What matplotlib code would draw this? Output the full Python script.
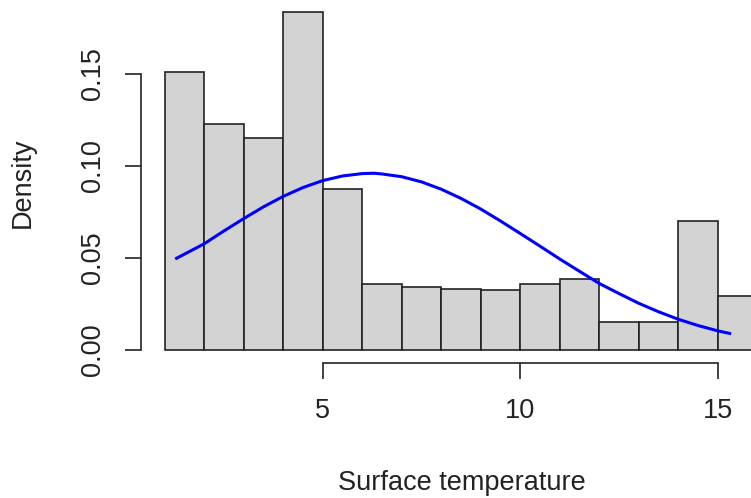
import matplotlib.pyplot as plt

plt.rcParams['font.family'] = ['Liberation Sans', 'DejaVu Sans']

# histogram bins (width 1, from 1 to 16) and densities
bin_left = [1, 2, 3, 4, 5, 6, 7, 8, 9, 10, 11, 12, 13, 14, 15]
density = [0.1512, 0.1230, 0.1154, 0.1835, 0.0876, 0.0359, 0.0343, 0.0332,
           0.0327, 0.0359, 0.0386, 0.0152, 0.0152, 0.0702, 0.0289]

# fitted density curve
curve_x = [1.3, 2, 2.5, 3, 3.5, 4, 4.5, 5, 5.5, 6, 6.3, 6.5, 7, 7.5, 8, 8.5,
           9, 9.5, 10, 10.5, 11, 11.5, 12, 12.5, 13, 13.5, 14, 14.5, 15, 15.3]
curve_y = [0.0497, 0.0576, 0.0646, 0.0713, 0.0777, 0.0834, 0.0882, 0.0920,
           0.0945, 0.0958, 0.0960, 0.0956, 0.0941, 0.0913, 0.0873, 0.0823,
           0.0765, 0.0700, 0.0632, 0.0563, 0.0493, 0.0426, 0.0360, 0.0305,
           0.0252, 0.0206, 0.0165, 0.0131, 0.0102, 0.0088]

xticks = [5, 10, 15]
yticks = [0.00, 0.05, 0.10, 0.15]

fig = plt.figure(figsize=(7.51, 4.98), dpi=100)
ax = fig.add_axes([141 / 751, 135 / 498, 640 / 751, 363 / 498])

ax.bar(bin_left, density, width=1, align='edge', color='#d3d3d3',
       edgecolor='#222222', linewidth=1.2)
ax.plot(curve_x, curve_y, color='#0000ff', linewidth=2.2)

ax.set_xlim(0.4, 16.6)
ax.set_ylim(-0.0073, 0.1903)

for s in ['top', 'right']:
    ax.spines[s].set_visible(False)
ax.spines['left'].set_bounds(0, 0.15)
ax.spines['bottom'].set_bounds(5, 15)
for s in ['left', 'bottom']:
    ax.spines[s].set_linewidth(1.2)
    ax.spines[s].set_color('#222222')

ax.set_xticks(xticks)
ax.set_xticklabels([str(v) for v in xticks])
ax.set_yticks(yticks)
ax.set_yticklabels(['%.2f' % v for v in yticks], rotation=90, va='center')
ax.tick_params(direction='out', length=11.5, width=1.2, color='#222222',
               labelsize=19.5, pad=14, labelcolor='#222222')

fig.text(462 / 751, 1 - 483 / 498, 'Surface temperature', ha='center',
         va='center', fontsize=19.5, color='#222222')
fig.text(23 / 751, 1 - 183 / 498, 'Density', ha='center', va='center',
         rotation=90, fontsize=19.5, color='#222222')

fig.savefig('out.png', dpi=100)
